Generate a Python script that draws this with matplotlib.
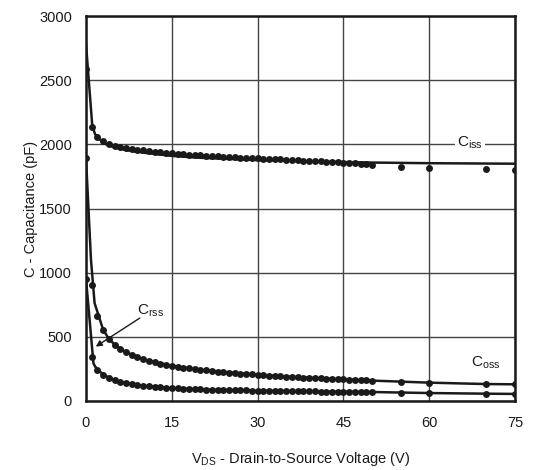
import matplotlib
matplotlib.use("Agg")
import matplotlib.pyplot as plt
import numpy as np

plt.rcParams['font.family'] = ['Liberation Sans', 'DejaVu Sans']
plt.rcParams['mathtext.fontset'] = 'custom'
plt.rcParams['mathtext.rm'] = 'Liberation Sans'
plt.rcParams['mathtext.it'] = 'Liberation Sans'

# measured points (V)
vds = list(range(0, 51)) + [55, 60, 70, 75]

ciss = [2586, 2135, 2060, 2025, 2005, 1990, 1980, 1972, 1965, 1958,
        1952, 1947, 1942, 1938, 1934, 1930, 1926, 1923, 1920, 1917,
        1914, 1911, 1908, 1906, 1903, 1901, 1898, 1896, 1894, 1892,
        1890, 1888, 1886, 1884, 1882, 1880, 1878, 1876, 1874, 1872,
        1870, 1868, 1866, 1864, 1862, 1858, 1855, 1852, 1848, 1844,
        1838, 1823, 1818, 1805, 1802]

coss = [1890, 906, 660, 555, 484, 440, 405, 380, 358, 340,
        325, 312, 301, 291, 282, 274, 267, 260, 254, 248,
        243, 238, 233, 229, 225, 221, 217, 214, 210, 207,
        204, 201, 198, 195, 193, 190, 188, 185, 183, 181,
        179, 177, 175, 173, 171, 169, 167, 165, 163, 161,
        159, 151, 143, 132, 130]

crss = [950, 341, 240, 205, 180, 163, 150, 140, 132, 125,
        119, 114, 110, 106, 103, 100, 98, 96, 94, 92,
        90, 89, 88, 87, 86, 85, 84, 83, 82, 81,
        80, 79, 79, 78, 78, 77, 77, 76, 76, 75,
        75, 74, 74, 73, 73, 73, 72, 72, 71, 71,
        70, 66, 62, 57, 55]

# fitted curves
ciss_line_v = [0, 1.1, 1.6, 3, 5, 7, 10, 15, 20, 30, 40, 50, 60, 75]
ciss_line = [2780, 2143, 2078, 2010, 1975, 1955, 1935, 1910, 1895, 1877, 1866, 1858, 1853, 1849]

coss_line_v = [0, 0.87, 1.5, 3, 4, 5, 7, 10, 15, 20, 30, 40, 50, 60, 70, 75]
coss_line = [1890, 1100, 763, 555, 484, 440, 380, 325, 274, 243, 204, 179, 159, 143, 132, 130]

crss_line_v = [0, 1.3, 1.6, 3, 5, 7, 10, 15, 20, 30, 40, 50, 60, 70, 75]
crss_line = [950, 294, 268, 205, 163, 140, 119, 100, 90, 80, 75, 70, 62, 57, 55]

fig = plt.figure(figsize=(5.33, 4.70), dpi=100)
ax = fig.add_axes([86/533, 1 - 401/470, (515-86)/533, (401-16)/470])

for lv, lval in [(ciss_line_v, ciss_line), (coss_line_v, coss_line), (crss_line_v, crss_line)]:
    ax.plot(lv, lval, color='#1a1a1a', lw=1.8, zorder=3, solid_joinstyle='miter')
for vals in [ciss, coss, crss]:
    ax.plot(vds, vals, 'o', color='#1a1a1a', ms=5.0, mec='none', zorder=4)

ax.set_xlim(0, 75)
ax.set_ylim(0, 3000)
ax.set_xticks([0, 15, 30, 45, 60, 75])
ax.set_yticks([0, 500, 1000, 1500, 2000, 2500, 3000])
ax.grid(True, color='#444444', lw=1.0, zorder=1)
ax.tick_params(length=0, labelsize=10.5, colors='#1a1a1a')
ax.tick_params(axis='y', pad=10)
ax.tick_params(axis='x', pad=11)
for s in ax.spines.values():
    s.set_linewidth(1.8)
    s.set_color('#1a1a1a')
    s.set_zorder(5)

ax.set_xlabel('V$_{\\rm DS}$ - Drain-to-Source Voltage (V)', fontsize=10.5, labelpad=14, color='#1a1a1a')
ax.set_ylabel('C - Capacitance (pF)', fontsize=10.5, labelpad=1, color='#1a1a1a')

ax.text(67.1, 2010, 'C$_{\\rm iss}$', fontsize=11, ha='center', va='center', zorder=6,
        bbox=dict(facecolor='white', edgecolor='none', pad=1.5), color='#1a1a1a')
ax.text(69.8, 300, 'C$_{\\rm oss}$', fontsize=11, ha='center', va='center', zorder=6, color='#1a1a1a')
ax.text(11.2, 700, 'C$_{\\rm rss}$', fontsize=11, ha='center', va='center', zorder=6, color='#1a1a1a')
ax.annotate('', xy=(1.7, 424), xytext=(9.4, 646), zorder=6,
            arrowprops=dict(arrowstyle='-|>', color='#1a1a1a', lw=1.0, mutation_scale=9,
                            shrinkA=0, shrinkB=0))

fig.savefig('out.png', dpi=100)
